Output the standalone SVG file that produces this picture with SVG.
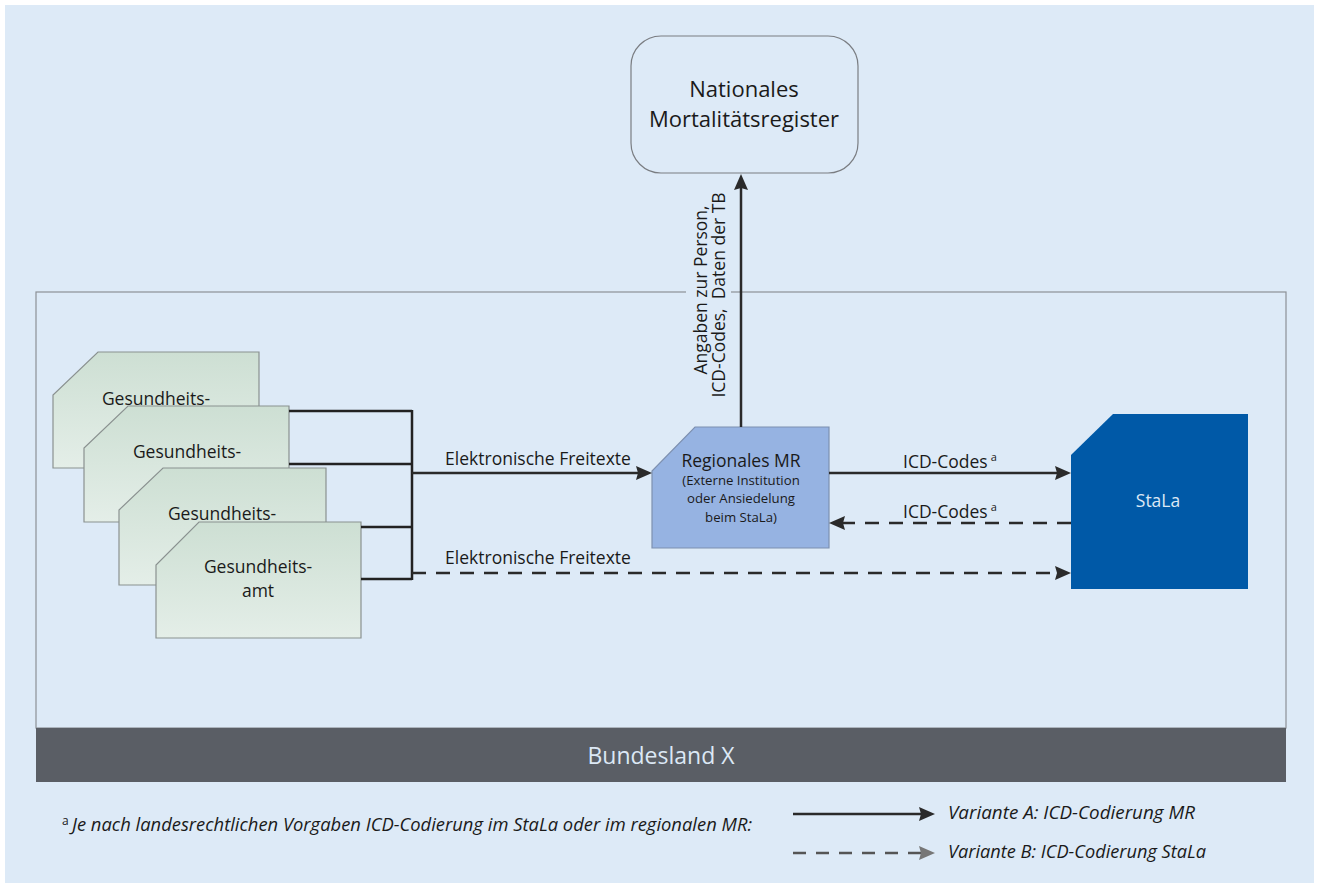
<svg xmlns="http://www.w3.org/2000/svg" width="1319" height="888" viewBox="0 0 1319 888">
<style>
text{font-family:"Open Sans","Noto Sans","Liberation Sans",sans-serif;fill:#1a1a1a}
.t17{font-size:17.5px}
.sm{font-size:13.2px}
.it{font-style:italic;font-size:18px}
.card{fill:url(#gcard);stroke:#8a9190;stroke-width:1.2}
.ln{fill:none;stroke:#222;stroke-width:2.5}
.arr{fill:none;stroke:#2a2a2a;stroke-width:2.5;marker-end:url(#ah)}
.dash{stroke-dasharray:14 10}
</style>
<defs>
<linearGradient id="gcard" x1="0" y1="0" x2="0" y2="1">
<stop offset="0" stop-color="#cddfd3"/>
<stop offset="1" stop-color="#e4eee8"/>
</linearGradient>
<marker id="ah" viewBox="0 0 16 14" refX="6" refY="7" markerWidth="16" markerHeight="14" orient="auto" markerUnits="userSpaceOnUse">
<path d="M0,0 L16,7 L0,14 L2,7 z" fill="#2a2a2a"/>
</marker>
<marker id="ahg" viewBox="0 0 16 14" refX="6" refY="7" markerWidth="16" markerHeight="14" orient="auto" markerUnits="userSpaceOnUse">
<path d="M0,0 L16,7 L0,14 L2,7 z" fill="#777"/>
</marker>
</defs>
<rect x="0" y="0" width="1319" height="888" fill="#ffffff"/>
<rect x="5" y="5" width="1309" height="878" fill="#ddeaf7"/>

<g id="bundesland">
<rect x="36" y="292" width="1250" height="436" fill="none" stroke="#8c9096" stroke-width="1.2"/>
<rect x="36" y="728" width="1250" height="54" fill="#5a5e65"/>
<text x="661" y="764" text-anchor="middle" style="font-size:23px;fill:#dce8f5">Bundesland X</text>
</g>

<g id="nationales-mr">
<rect x="631" y="36" width="227" height="137" rx="30" fill="#ddeaf7" stroke="#7a7d82" stroke-width="1.2"/>
<text x="744" y="97" text-anchor="middle" style="font-size:22px">Nationales</text>
<text x="744" y="127" text-anchor="middle" style="font-size:22px">Mortalitätsregister</text>
</g>

<g id="gesundheitsamt-1">
<path class="card" d="M98,352 H259 V468 H53 V395 Z"/>
<text class="t17" x="156" y="405" text-anchor="middle">Gesundheits-</text>
</g>
<g id="gesundheitsamt-2">
<path class="card" d="M128,406 H289 V522 H84 V448 Z"/>
<text class="t17" x="187" y="458" text-anchor="middle">Gesundheits-</text>
</g>
<g id="gesundheitsamt-3">
<path class="card" d="M163,468 H326 V585 H119 V510 Z"/>
<text class="t17" x="222" y="520" text-anchor="middle">Gesundheits-</text>
</g>
<g id="gesundheitsamt-4">
<path class="card" d="M199,522 H361 V638 H156 V565 Z"/>
<text class="t17" x="258" y="573" text-anchor="middle">Gesundheits-</text>
<text class="t17" x="258" y="597" text-anchor="middle">amt</text>
</g>

<g id="regionales-mr">
<path d="M695,427 H829 V548 H652 V471 Z" fill="#96b3e2" stroke="#7d90b0" stroke-width="1.2"/>
<text x="741" y="467" text-anchor="middle" style="font-size:17.5px">Regionales MR</text>
<text class="sm" x="741" y="485" text-anchor="middle">(Externe Institution</text>
<text class="sm" x="741" y="503" text-anchor="middle">oder Ansiedelung</text>
<text class="sm" x="741" y="522" text-anchor="middle">beim StaLa)</text>
</g>

<g id="stala">
<path d="M1113,414 H1248 V589 H1071 V455 Z" fill="#0059a7"/>
<text x="1158" y="507" text-anchor="middle" style="font-size:17.5px;fill:#dce8f5">StaLa</text>
</g>

<g id="connectors">
<path class="ln" d="M289,411 H412 M289,464 H412 M361,527 H412 M361,579 H412 M412,410 V580"/>
<path class="arr" d="M412,473 H642"/>
<path class="arr dash" d="M412,573 H1061"/>
<path class="arr" d="M829,473 H1061"/>
<path class="arr dash" d="M1071,523 H839"/>
<path class="arr" d="M741,427 V184"/>
</g>

<g id="labels">
<text class="t17" x="538" y="465" text-anchor="middle">Elektronische Freitexte</text>
<text class="t17" x="538" y="564" text-anchor="middle">Elektronische Freitexte</text>
<text class="t17" x="903" y="468">ICD-Codes<tspan dx="3" dy="-7" style="font-size:11px">a</tspan></text>
<text class="t17" x="903" y="518">ICD-Codes<tspan dx="3" dy="-7" style="font-size:11px">a</tspan></text>
<rect x="686" y="284" width="45" height="16" fill="#ddeaf7"/>
<g transform="translate(707,290) rotate(-90)">
<text x="0" y="0" text-anchor="middle" style="font-size:17.5px">Angaben zur Person,</text>
<text x="-5" y="18" text-anchor="middle" style="font-size:17.5px">ICD-Codes,&#160; Daten der TB</text>
</g>
</g>

<g id="legend">
<text x="62" y="825" style="font-size:12px">a</text>
<text class="it" x="72" y="831" textLength="680" lengthAdjust="spacingAndGlyphs">Je nach landesrechtlichen Vorgaben ICD-Codierung im StaLa oder im regionalen MR:</text>
<path class="arr" d="M793,814 H925"/>
<path d="M793,853 H925" fill="none" stroke="#555" stroke-width="2.5" stroke-dasharray="13 10" marker-end="url(#ahg)"/>
<text class="it" x="948" y="819" textLength="247" lengthAdjust="spacingAndGlyphs">Variante A: ICD-Codierung MR</text>
<text class="it" x="948" y="858" textLength="258" lengthAdjust="spacingAndGlyphs">Variante B: ICD-Codierung StaLa</text>
</g>
</svg>
